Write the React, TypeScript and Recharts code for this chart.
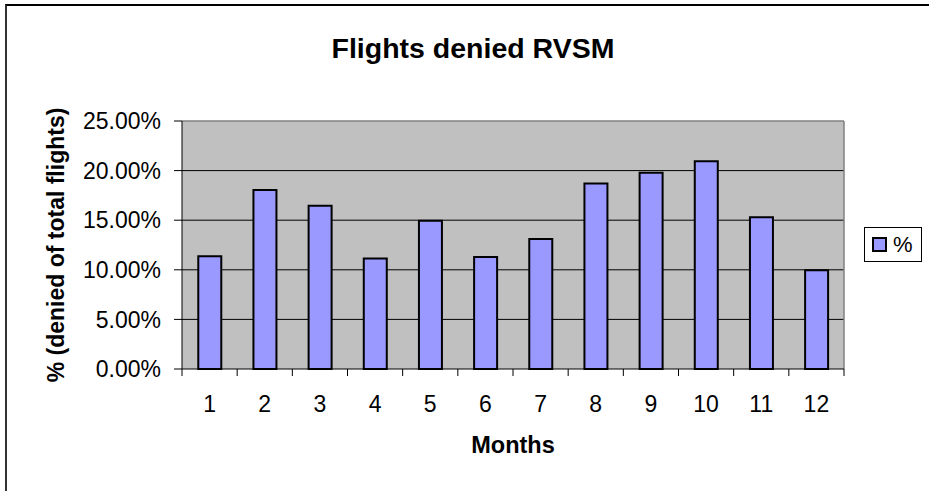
import React from 'react';
import {
  BarChart,
  Bar,
  XAxis,
  YAxis,
  CartesianGrid,
  Legend,
  ReferenceLine,
} from 'recharts';

// months on the x axis
const MONTHS = ['1', '2', '3', '4', '5', '6', '7', '8', '9', '10', '11', '12'];
// % of flights denied RVSM, per month
const DENIED = [11.37, 18.04, 16.46, 11.13, 14.95, 11.3, 13.1, 18.71, 19.78, 20.95, 15.29, 9.96];
const Y_TICKS = [0, 5, 10, 15, 20, 25];
const GRID_VALUES = [5, 10, 15, 20];

const FONT = '"Liberation Sans", Arial, sans-serif';
const X_TICK_SIZE = 6;
const X_TICK_MARGIN = 21;

const data = MONTHS.map((m, i) => ({ month: m, pct: DENIED[i] }));

// month label plus Excel-style tick marks on the category boundaries
function MonthTick(props: any) {
  const { x, y, payload, width, visibleTicksCount, index } = props;
  const half = payload.offset || width / visibleTicksCount / 2;
  const axisY = y - X_TICK_SIZE - X_TICK_MARGIN;
  const isLast = index === visibleTicksCount - 1;
  return (
    <g>
      <line x1={x - half} x2={x - half} y1={axisY} y2={axisY + 7} stroke="#000" />
      {isLast && <line x1={x + half} x2={x + half} y1={axisY} y2={axisY + 7} stroke="#000" />}
      <text x={x} y={y} dy="0.71em" textAnchor="middle" fontSize={23} fill="#000">
        {payload.value}
      </text>
    </g>
  );
}

function LegendBox() {
  return (
    <div
      style={{
        display: 'flex',
        alignItems: 'center',
        background: '#fff',
        border: '1px solid #000',
        boxSizing: 'border-box',
        width: 58,
        height: 35,
        paddingLeft: 7,
        fontFamily: FONT,
        fontSize: 22,
        color: '#000',
      }}
    >
      <span
        style={{
          display: 'inline-block',
          width: 15,
          height: 15,
          boxSizing: 'border-box',
          background: '#9999ff',
          border: '2px solid #000',
          marginRight: 6,
        }}
      />
      <span>%</span>
    </div>
  );
}

export default function App() {
  return (
    <div
      style={{
        position: 'absolute',
        left: 0,
        top: 0,
        width: 929,
        height: 491,
        overflow: 'hidden',
        background: '#fff',
      }}
    >
      {/* chart frame, cut off at right and bottom */}
      <div
        style={{
          position: 'absolute',
          left: 5,
          top: 4,
          width: 1000,
          height: 1000,
          borderLeft: '2px solid #333',
          borderTop: '2px solid #000',
        }}
      />
      <div
        style={{
          position: 'absolute',
          left: 273,
          width: 400,
          top: 34,
          textAlign: 'center',
          fontFamily: FONT,
          fontWeight: 'bold',
          fontSize: 28.5,
          lineHeight: '28px',
          color: '#000',
        }}
      >
        Flights denied RVSM
      </div>
      <div style={{ position: 'absolute', left: 0, top: 0 }}>
        <BarChart
          width={929}
          height={491}
          data={data}
          margin={{ top: 121, right: 85, left: 20, bottom: 22 }}
          barCategoryGap="29.5%"
          style={{ fontFamily: FONT }}
        >
          <CartesianGrid
            fill="#c0c0c0"
            vertical={false}
            horizontalValues={GRID_VALUES}
            stroke="#000"
            strokeOpacity={1}
          />
          {/* grey right border of the plot area */}
          <CartesianGrid
            horizontal={false}
            stroke="#808080"
            strokeWidth={1.5}
            verticalCoordinatesGenerator={({ offset }: any) => [offset.left + offset.width]}
          />
          <XAxis
            dataKey="month"
            height={100}
            interval={0}
            axisLine={{ stroke: '#000' }}
            tickLine={false}
            tickSize={X_TICK_SIZE}
            tickMargin={X_TICK_MARGIN}
            tick={<MonthTick />}
            label={{
              value: 'Months',
              position: 'insideBottom',
              offset: 16,
              fill: '#000',
              fontSize: 23.5,
              fontWeight: 'bold',
            }}
          />
          <YAxis
            width={162}
            domain={[0, 25]}
            ticks={Y_TICKS}
            interval={0}
            tickFormatter={(v: number) => v.toFixed(2) + '%'}
            tick={{ fill: '#000', fontSize: 23 }}
            tickSize={8}
            tickMargin={13}
            axisLine={{ stroke: '#000' }}
            tickLine={{ stroke: '#000' }}
            label={{
              value: '% (denied of total flights)',
              angle: -90,
              position: 'insideLeft',
              offset: 36,
              fill: '#000',
              fontSize: 23,
              fontWeight: 'bold',
              style: { textAnchor: 'middle' },
            }}
          />
          <ReferenceLine y={25} stroke="#808080" strokeWidth={1.5} />
          <Legend
            layout="horizontal"
            align="center"
            verticalAlign="middle"
            wrapperStyle={{ left: 864, top: 227, width: 'auto', height: 'auto' }}
            content={() => <LegendBox />}
          />
          <Bar
            dataKey="pct"
            name="%"
            fill="#9999ff"
            stroke="#000"
            strokeWidth={2}
            isAnimationActive={false}
          />
        </BarChart>
      </div>
    </div>
  );
}
